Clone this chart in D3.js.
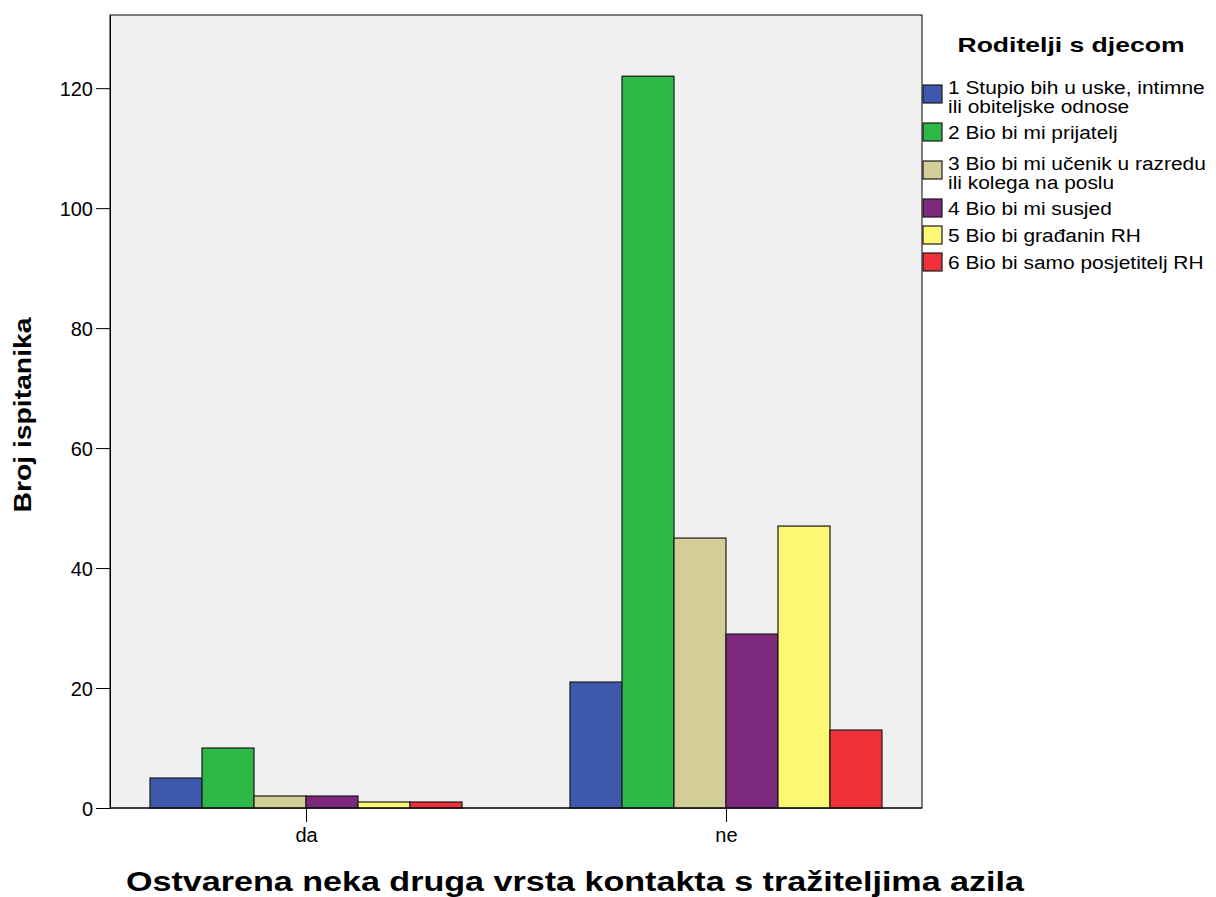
<!DOCTYPE html>
<html>
<head>
<meta charset="utf-8">
<script src="https://cdn.jsdelivr.net/npm/d3@7"></script>
<style>
  body { margin: 0; background: #fff; }
  text { font-family: Arial, "Liberation Sans", sans-serif; fill: #000; }
</style>
</head>
<body>
<div id="main"></div>
<script>
// data
const groups = ["da", "ne"];
const seriesNames = [
    ["1 Stupio bih u uske, intimne", "ili obiteljske odnose"],
    ["2 Bio bi mi prijatelj"],
    ["3 Bio bi mi učenik u razredu", "ili kolega na poslu"],
    ["4 Bio bi mi susjed"],
    ["5 Bio bi građanin RH"],
    ["6 Bio bi samo posjetitelj RH"]
];
const valuesDa = [5, 10, 2, 2, 1, 1];
const valuesNe = [21, 122, 45, 29, 47, 13];
const colors = ["#3e58ac", "#2eb848", "#d3ce97", "#7b287d", "#fbf873", "#ef3038"];
const yTicks = [0, 20, 40, 60, 80, 100, 120];

function drawChart() {
    const width = 1216, height = 897;
    const left = 110, right = 922, top = 15, bottom = 808;

    const svg = d3.select("#main").append("svg")
        .attr("width", width)
        .attr("height", height);

    svg.append("rect")
        .attr("x", left).attr("y", top)
        .attr("width", right - left).attr("height", bottom - top)
        .attr("fill", "#f0f0f0")
        .attr("stroke", "#000").attr("stroke-width", 1);

    const x = d3.scalePoint().domain(groups).range([left, right]).padding(0.4667);
    const inner = d3.scaleBand().domain(d3.range(6)).range([-156, 156]);
    const y = d3.scaleLinear().domain([0, 132.2]).range([bottom, top]);

    const table = groups.map((g, i) => ({
        group: g,
        values: i === 0 ? valuesDa : valuesNe
    }));

    const g = svg.selectAll("g.grp").data(table).enter().append("g")
        .attr("class", "grp")
        .attr("transform", d => `translate(${x(d.group)},0)`);

    g.selectAll("rect").data(d => d.values).enter().append("rect")
        .attr("x", (d, i) => inner(i))
        .attr("width", inner.bandwidth())
        .attr("y", d => y(d))
        .attr("height", d => bottom - y(d))
        .attr("fill", (d, i) => colors[i])
        .attr("stroke", "#1a1a1a")
        .attr("stroke-width", 1.2);

    // axes
    const yAxis = svg.append("g")
        .attr("transform", `translate(${left},0)`)
        .call(d3.axisLeft(y).tickValues(yTicks).tickSizeInner(14).tickSizeOuter(0).tickPadding(3));
    yAxis.select(".domain").attr("stroke", "#000");
    yAxis.selectAll("text").style("font-size", "20px").attr("dy", "0.35em");

    const xAxis = svg.append("g")
        .attr("transform", `translate(0,${bottom})`)
        .call(d3.axisBottom(x).tickSizeInner(14).tickSizeOuter(0).tickPadding(6));
    xAxis.select(".domain").remove();
    xAxis.selectAll("text").style("font-size", "20px");

    svg.append("line")
        .attr("x1", left).attr("x2", right)
        .attr("y1", bottom).attr("y2", bottom)
        .attr("stroke", "#000");

    // titles
    svg.append("text")
        .attr("x", 575).attr("y", 891)
        .attr("text-anchor", "middle")
        .attr("textLength", 898).attr("lengthAdjust", "spacingAndGlyphs")
        .style("font-size", "28px").style("font-weight", "bold")
        .text("Ostvarena neka druga vrsta kontakta s tražiteljima azila");

    svg.append("text")
        .attr("transform", "translate(31,415) rotate(-90)")
        .attr("text-anchor", "middle")
        .attr("textLength", 195).attr("lengthAdjust", "spacingAndGlyphs")
        .style("font-size", "23px").style("font-weight", "bold")
        .text("Broj ispitanika");

    // legend
    const legend = svg.append("g");
    legend.append("text")
        .attr("x", 1071).attr("y", 52)
        .attr("text-anchor", "middle")
        .attr("textLength", 227).attr("lengthAdjust", "spacingAndGlyphs")
        .style("font-size", "21px").style("font-weight", "bold")
        .text("Roditelji s djecom");

    const itemTop = [85, 123, 161, 199, 226, 253];
    const items = legend.selectAll("g.item").data(seriesNames).enter().append("g")
        .attr("class", "item")
        .attr("transform", (d, i) => `translate(923,${itemTop[i]})`);
    items.append("rect")
        .attr("width", 19).attr("height", 18)
        .attr("fill", (d, i) => colors[i])
        .attr("stroke", "#1a1a1a").attr("stroke-width", 1.2);
    items.each(function(d) {
        const t = d3.select(this).append("g")
            .attr("transform", "translate(25,0) scale(1.1,1)");
        d.forEach((line, k) => {
            t.append("text")
                .attr("x", 0).attr("y", (d.length > 1 ? 9 : 16) + k * 19)
                .style("font-size", "19px")
                .text(line);
        });
    });
}

document.addEventListener("DOMContentLoaded", drawChart);
</script>
</body>
</html>
